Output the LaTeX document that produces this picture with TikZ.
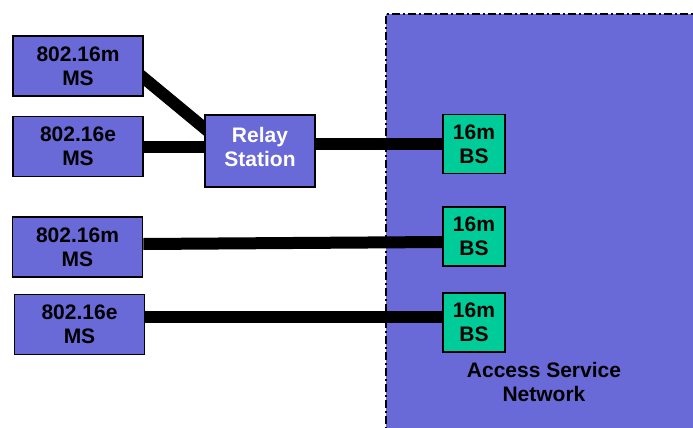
\documentclass[tikz,border=0pt]{standalone}
\usepackage{fontspec}
\setmainfont{Liberation Sans}
\usepackage{tikz}
\usetikzlibrary{positioning,calc,backgrounds}

\definecolor{asnblue}{RGB}{105,105,216}
\definecolor{bsgreen}{RGB}{0,204,153}

\begin{document}
\begin{tikzpicture}[x=1pt,y=-1pt,
  box/.style={draw=black,line width=1.6pt,fill=asnblue,align=center,inner sep=0pt,
    font=\fontsize{21}{24}\selectfont\bfseries},
  msbox/.style={box,minimum width=130pt,minimum height=60pt},
  bsbox/.style={box,fill=bsgreen,minimum width=62pt,minimum height=59pt},
  link/.style={line width=12pt}]
  \useasboundingbox (0,0) rectangle (693,428);
  % stations
  \node[msbox] (ms1) at (78,66) {802.16m\\MS};
  \node[msbox] (ms2) at (78,146.5) {802.16e\\MS};
  \node[msbox] (ms3) at (77.5,247) {802.16m\\MS};
  \node[msbox] (ms4) at (79.5,324.5) {802.16e\\MS};
  \node[box,text=white,text depth=8pt,minimum width=110pt,minimum height=72pt] (rs) at (260,151) {Relay\\Station};
  \node[bsbox] (bs1) at (474,144) {16m\\BS};
  \node[bsbox] (bs2) at (474,236.5) {16m\\BS};
  \node[bsbox] (bs3) at (474,322.5) {16m\\BS};
  \node[font=\fontsize{21}{24}\selectfont\bfseries,align=center] (asn) at (544,382) {Access Service\\Network};
  \begin{pgfonlayer}{background}
    % access service network
    \fill[asnblue] (386,14) rectangle (700,440);
    \draw[line width=2pt,dash pattern=on 8pt off 3pt on 2pt off 3pt] (386,440) -- (386,14) -- (700,14);
    % links
    \coordinate (a) at ([yshift=-12pt]ms1.east);
    \coordinate (b) at ([yshift=23pt]rs.west);
    \draw[link] ($(a)!-0.3!(b)$) -- ($(b)!-0.3!(a)$);
    \draw[link] (ms2.east) -- (ms2.east -| rs.west);
    \draw[link] (bs1.west -| rs.east) -- (bs1.west);
    \draw[link] ([yshift=3pt]ms3.east) -- ([yshift=-5.5pt]bs2.west);
    \draw[link] ([yshift=8pt]ms4.east) -- ([yshift=8pt]ms4.east -| bs3.west);
  \end{pgfonlayer}
\end{tikzpicture}
\end{document}
